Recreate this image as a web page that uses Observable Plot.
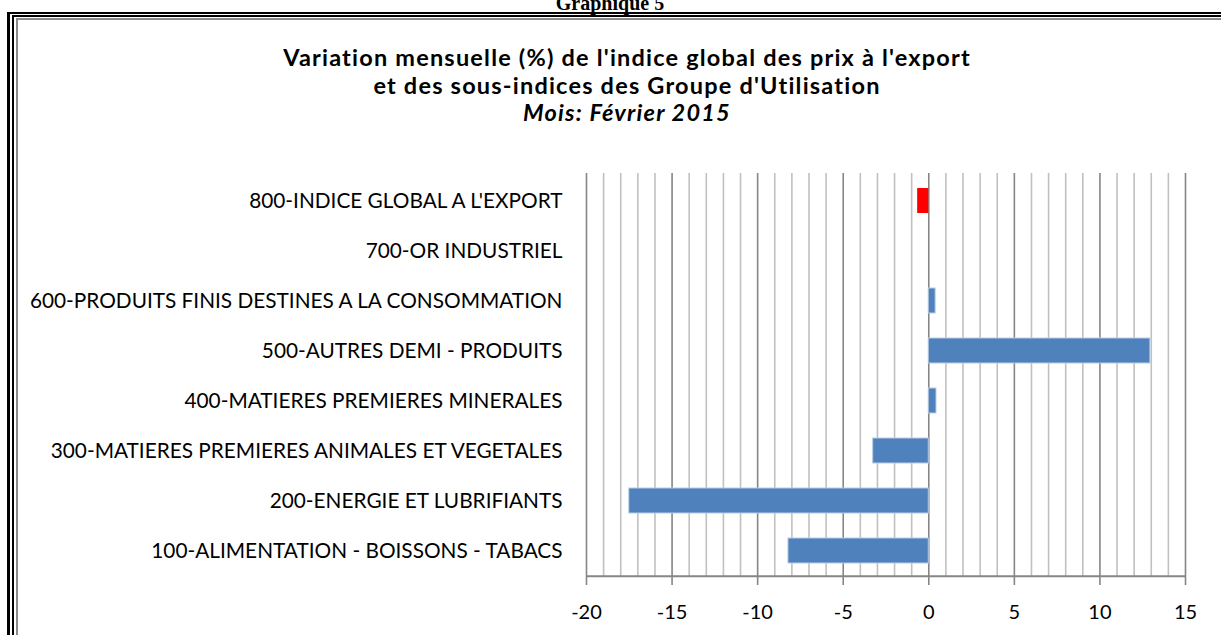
<!DOCTYPE html>
<html>
<head>
<meta charset="utf-8">
<script src="https://cdn.jsdelivr.net/npm/d3@7"></script>
<script src="https://cdn.jsdelivr.net/npm/@observablehq/plot@0.6"></script>
<style>
  html, body { margin: 0; padding: 0; background: #fff; }
  #page { position: relative; width: 1221px; height: 635px; overflow: hidden; background: #fff; }
  .fr { position: absolute; width: 3000px; height: 3000px; box-sizing: border-box; }
  #f1 { left: 7px; top: 12px; border-left: 3px solid #000; border-top: 2px solid #000; }
  #f2 { left: 12px; top: 15px; border-left: 2px solid #000; border-top: 2px solid #000; }
  #f3 { left: 16px; top: 18px; border-left: 2px solid #8a8a8a; border-top: 2px solid #8a8a8a; }
  #graph { position: absolute; left: 0; width: 1220px; top: -7px; text-align: center;
           font-family: "Liberation Serif", serif; font-weight: bold; font-size: 20px; line-height: 20px; color: #000; }
  #title { position: absolute; left: 0; width: 1254px; top: 44px; text-align: center;
           font-family: Lato, sans-serif; font-weight: bold; font-size: 23.5px; letter-spacing: 1.2px;
           line-height: 27.5px; color: #000; }
  #title .it { font-style: italic; }
  #chart { position: absolute; left: 0; top: 150px; }
</style>
</head>
<body>
<div id="page">
  <div class="fr" id="f1"></div>
  <div class="fr" id="f2"></div>
  <div class="fr" id="f3"></div>
  <div id="graph">Graphique 5</div>
  <div id="title">
    <div>Variation mensuelle (%) de l'indice global des prix à l'export</div>
    <div>et des sous-indices des Groupe d'Utilisation</div>
    <div class="it">Mois: Février 2015</div>
  </div>
  <div id="chart"></div>
</div>
<script>
const categories = [
  "100-ALIMENTATION - BOISSONS - TABACS",
  "200-ENERGIE ET LUBRIFIANTS",
  "300-MATIERES PREMIERES ANIMALES ET VEGETALES",
  "400-MATIERES PREMIERES MINERALES",
  "500-AUTRES DEMI - PRODUITS",
  "600-PRODUITS FINIS DESTINES A LA CONSOMMATION",
  "700-OR INDUSTRIEL",
  "800-INDICE GLOBAL A L'EXPORT"
];
const values = [-8.2, -17.5, -3.25, 0.45, 12.95, 0.4, 0, -0.65];
const highlight = "800-INDICE GLOBAL A L'EXPORT";
const xTicks = [-20, -15, -10, -5, 0, 5, 10, 15];
const minorGrid = [-19,-18,-17,-16,-14,-13,-12,-11,-9,-8,-7,-6,-4,-3,-2,-1,1,2,3,4,6,7,8,9,11,12,13,14];

const data = categories.map((c, i) => ({category: c, value: values[i]}));
const blue = data.filter(d => d.category !== highlight);
const red = data.filter(d => d.category === highlight);

const H = 485, MT = 23, MB = 58;
const step = (H - MT - MB) / categories.length;

const plot = Plot.plot({
  width: 1221,
  height: H,
  marginTop: MT,
  marginBottom: MB,
  marginLeft: 586,
  marginRight: 36,
  x: {domain: [-20, 15], label: null},
  y: {domain: categories.slice().reverse(), paddingInner: 0.5, paddingOuter: 0.25, label: null},
  style: {fontFamily: "Lato, sans-serif", fontSize: "20px", color: "#000", background: "transparent"},
  marks: [
    Plot.ruleX(minorGrid, {stroke: "#c0c0c0", strokeWidth: 1.6}),
    Plot.ruleX(xTicks, {stroke: "#868686", strokeWidth: 1.6}),
    Plot.barX(blue, {x: "value", y: "category", fill: "#4f81bd", stroke: "#b9cde5", strokeWidth: 1}),
    Plot.barX(red, {x: "value", y: "category", fill: "#ff0000"}),
    Plot.ruleY([categories[0]], {dy: step / 2, stroke: "#868686", strokeWidth: 2}),
    Plot.axisX({ticks: xTicks, tickFormat: d => String(d), label: null, tickSize: 8, tickPadding: 19, stroke: "#868686", strokeWidth: 1.6, fontSize: 20, fill: "#000"}),
    Plot.axisY({tickSize: 0, tickPadding: 24, label: null, fontSize: 20.8, fill: "#000"})
  ]
});
document.getElementById("chart").appendChild(plot);
</script>
</body>
</html>
